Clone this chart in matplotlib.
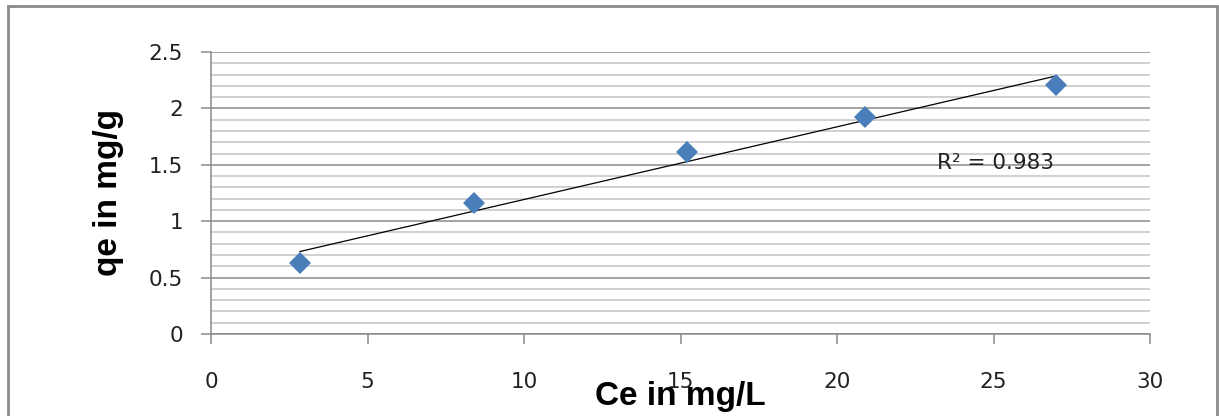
import numpy as np
import matplotlib.pyplot as plt
from matplotlib.patches import Rectangle
from matplotlib.ticker import MultipleLocator

# data
ce = [2.84, 8.4, 15.2, 20.9, 27.0]
qe = [0.63, 1.16, 1.61, 1.92, 2.21]
r2_label = "R\u00b2 = 0.983"

fig = plt.figure(figsize=(12.19, 4.16), dpi=100)
ax = fig.add_axes([211/1219, 1 - 334/416, (1150-211)/1219, (334-52)/416])

# linear trendline
slope, icept = np.polyfit(ce, qe, 1)
xs = np.array([min(ce), max(ce)])
ax.plot(xs, slope*xs + icept, color='black', lw=0.9, zorder=3)

ax.plot(ce, qe, linestyle='none', marker='D', markersize=11,
        color='#4a7ebb', markeredgewidth=0, zorder=4)

ax.set_xlim(0, 30)
ax.set_ylim(0, 2.5)
ax.xaxis.set_major_locator(MultipleLocator(5))
ax.yaxis.set_minor_locator(MultipleLocator(0.1))
ax.set_yticks([0, 0.5, 1, 1.5, 2, 2.5], ['0', '0.5', '1', '1.5', '2', '2.5'])

ax.grid(axis='y', which='major', color='#8a8a8a', lw=1.1)
ax.grid(axis='y', which='minor', color='#c4c4c4', lw=1.1)
ax.set_axisbelow(True)

for s in ['top', 'right']:
    ax.spines[s].set_visible(False)
for s in ['left', 'bottom']:
    ax.spines[s].set_color('#8a8a8a')
    ax.spines[s].set_linewidth(1.1)

ax.tick_params(axis='both', which='major', direction='out', length=7,
               color='#8a8a8a', width=1.1, labelsize=15.5, labelcolor='#222222')
ax.tick_params(axis='y', which='minor', length=0)
ax.tick_params(axis='x', pad=20)
ax.tick_params(axis='y', pad=13)

ax.set_xlabel('Ce in mg/L', fontsize=24, fontweight='bold', family='Liberation Sans')
ax.xaxis.set_label_coords(0.5, -0.165)
ax.set_ylabel('qe in mg/g', fontsize=24, fontweight='bold', family='Liberation Sans')
ax.yaxis.set_label_coords(-0.093, 0.5)

ax.text(23.2, 1.52, r2_label, fontsize=15.5, color='#222222', ha='left', va='center')

# outer chart frame
fig.patches.append(Rectangle((8/1219, -0.05), (1217-8)/1219, 1.05 - 6/416,
                             transform=fig.transFigure, fill=False,
                             edgecolor='#8a8a8a', lw=2))

fig.savefig('out.png', dpi=100)
